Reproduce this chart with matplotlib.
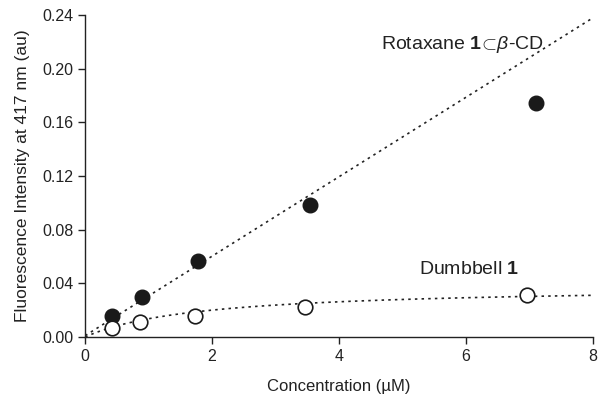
import numpy as np
import matplotlib.pyplot as plt

plt.rcParams['font.family'] = ['Liberation Sans', 'DejaVu Sans']
plt.rcParams['mathtext.fontset'] = 'custom'
plt.rcParams['mathtext.rm'] = 'Liberation Sans'
plt.rcParams['mathtext.it'] = 'Liberation Sans:italic'
plt.rcParams['mathtext.bf'] = 'Liberation Sans:bold'

# Rotaxane 1 in beta-CD (filled circles)
rot_conc = [0.43, 0.89, 1.78, 3.55, 7.10]
rot_fluor = [0.0157, 0.0295, 0.0566, 0.0985, 0.174]

# Dumbbell 1 (open circles)
dumb_conc = [0.43, 0.87, 1.73, 3.47, 6.97]
dumb_fluor = [0.0070, 0.0112, 0.0155, 0.0224, 0.0310]

# fit parameters
rot_slope, rot_icpt = 0.0296, 0.001
dumb_fmax, dumb_k = 0.038, 1.8

x_ticks = [0, 2, 4, 6, 8]
y_ticks = [0.00, 0.04, 0.08, 0.12, 0.16, 0.20, 0.24]

fig = plt.figure(figsize=(6.0, 4.04), dpi=100)
ax = fig.add_axes([0.142, 0.166, 0.846, 0.797])

xf = np.linspace(0, 8, 200)
ax.plot(xf, rot_slope * xf + rot_icpt, color='#222222', lw=1.2, dashes=(1.5, 2.5))
ax.plot(xf, dumb_fmax * xf / (dumb_k + xf), color='#222222', lw=1.2, dashes=(1.5, 2.5))

ax.plot(rot_conc, rot_fluor, 'o', ms=10.5, color='#1a1a1a', zorder=3)
ax.plot(dumb_conc, dumb_fluor, 'o', ms=10.5, mfc='white', mec='#1a1a1a', mew=1.2, zorder=3)

ax.text(5.95, 0.218, r'Rotaxane $\mathbf{1}\!\subset\!\mathit{\beta}$-CD', fontsize=14,
        ha='center', va='center', color='#222222')
ax.text(6.05, 0.050, r'Dumbbell $\mathbf{1}$', fontsize=14,
        ha='center', va='center', color='#222222')

ax.set_xlim(0, 8)
ax.set_ylim(0, 0.24)
ax.set_xticks(x_ticks)
ax.set_yticks(y_ticks)
ax.set_xticklabels([str(v) for v in x_ticks])
ax.set_yticklabels([f'{v:.2f}' for v in y_ticks])
ax.spines['top'].set_visible(False)
ax.spines['right'].set_visible(False)
for s in ['left', 'bottom']:
    ax.spines[s].set_linewidth(1.0)
    ax.spines[s].set_color('#222222')
ax.tick_params(direction='out', length=5, width=1.0, labelsize=11.5, colors='#222222')
ax.set_xlabel('Concentration (\u00b5M)', fontsize=12, color='#222222', labelpad=11)
ax.set_ylabel('Fluorescence Intensity at 417 nm (au)', fontsize=12.5, color='#222222', labelpad=9)

fig.savefig('out.png', dpi=100)
